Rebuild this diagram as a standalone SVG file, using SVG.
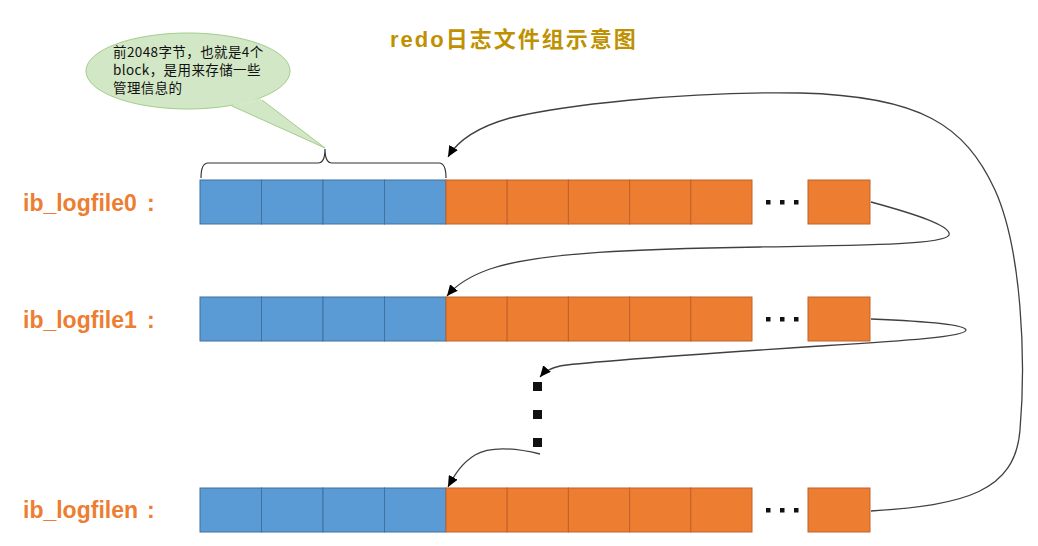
<svg xmlns="http://www.w3.org/2000/svg" width="1038" height="546" viewBox="0 0 1038 546">
<style>
.blue{fill:#5B9BD5;stroke:#41719C;stroke-width:1}
.orange{fill:#ED7D31;stroke:#C0622A;stroke-width:1}
.lbl{font-family:"Liberation Sans","Noto Sans CJK SC",sans-serif;font-weight:bold;font-size:23px;fill:#ED7D31}
.dot{fill:#111}
.conn{fill:none;stroke:#404040;stroke-width:1.3}
.note{font-family:"Noto Sans CJK SC",sans-serif;font-size:13.5px;fill:#111;letter-spacing:0.4px}
</style>
<defs>
<marker id="arr" markerUnits="userSpaceOnUse" markerWidth="12" markerHeight="10" refX="11" refY="5" orient="auto">
<path d="M0,0 L11,5 L0,10 Z" fill="#000"/>
</marker>
<g id="rowcells">
<rect class="blue" x="200" y="0" width="61.5" height="44"/>
<rect class="blue" x="261.5" y="0" width="61.5" height="44"/>
<rect class="blue" x="323" y="0" width="61.5" height="44"/>
<rect class="blue" x="384.5" y="0" width="61.5" height="44"/>
<rect class="orange" x="446" y="0" width="61.2" height="44"/>
<rect class="orange" x="507.2" y="0" width="61.2" height="44"/>
<rect class="orange" x="568.4" y="0" width="61.2" height="44"/>
<rect class="orange" x="629.6" y="0" width="61.2" height="44"/>
<rect class="orange" x="690.8" y="0" width="61.2" height="44"/>
<rect class="dot" x="766" y="20" width="4.5" height="4.5"/>
<rect class="dot" x="780" y="20" width="4.5" height="4.5"/>
<rect class="dot" x="794" y="20" width="4.5" height="4.5"/>
<rect class="orange" x="808" y="0" width="62" height="44"/>
</g>
</defs>
<rect width="1038" height="546" fill="#fff"/>
<g id="title">
<text x="390" y="47" font-family="'Liberation Sans','Noto Sans CJK SC',sans-serif" font-weight="bold" font-size="22" letter-spacing="2" fill="#BF9000">redo日志文件组示意图</text>
</g>
<g id="callout">
<path d="M232,106 L325,148 L262,100" fill="#D2E7C5" stroke="#A3CD8B" stroke-width="1"/>
<ellipse cx="188" cy="71" rx="102" ry="38" fill="#D2E7C5" stroke="#A3CD8B" stroke-width="1"/>
<path d="M233,104.5 L261,99" stroke="#D2E7C5" stroke-width="2.5" fill="none"/>
<text class="note" x="113" y="57">前2048字节，也就是4个</text>
<text class="note" x="113" y="75">block，是用来存储一些</text>
<text class="note" x="113" y="93">管理信息的</text>
</g>
<g id="brace">
<path d="M201,178 Q201,163 208,163 L318,163 Q325,163 325,149 Q325,163 332,163 L439,163 Q446,163 446,178" fill="none" stroke="#333" stroke-width="1.2"/>
</g>
<g id="ib_logfile0">
<text class="lbl" x="23" y="211">ib_logfile0 <tspan x="147">:</tspan></text>
<use href="#rowcells" y="180"/>
</g>
<g id="ib_logfile1">
<text class="lbl" x="23" y="328">ib_logfile1 <tspan x="147">:</tspan></text>
<use href="#rowcells" y="297"/>
</g>
<g id="ellipsis">
<rect class="dot" x="533" y="382" width="9" height="9"/>
<rect class="dot" x="533" y="410" width="9" height="9"/>
<rect class="dot" x="533" y="438" width="9" height="9"/>
</g>
<g id="ib_logfilen">
<text class="lbl" x="23" y="518">ib_logfilen <tspan x="147">:</tspan></text>
<use href="#rowcells" y="488"/>
</g>
<g id="connectors">
<path class="conn" marker-end="url(#arr)" d="M871,202 C915,214 952,226 949,235 C945,244 880,245 760,247 C640,249 540,252 490,269 C470,276 456,285 447,296"/>
<path class="conn" marker-end="url(#arr)" d="M871,319 C920,321 965,324 966,330 C966,337 900,341 820,346 C700,354 580,362 560,366 C550,368 545,371 540,377"/>
<path class="conn" marker-end="url(#arr)" d="M540,454 C515,448 490,446 475,455 C462,463 455,474 448,487"/>
<path class="conn" marker-end="url(#arr)" d="M871,511 C965,505 1015,492 1020,430 C1026,360 1022,250 995,190 C965,125 920,96 800,93 C680,91 560,106 510,118 C478,127 458,140 448,157"/>
</g>
</svg>
